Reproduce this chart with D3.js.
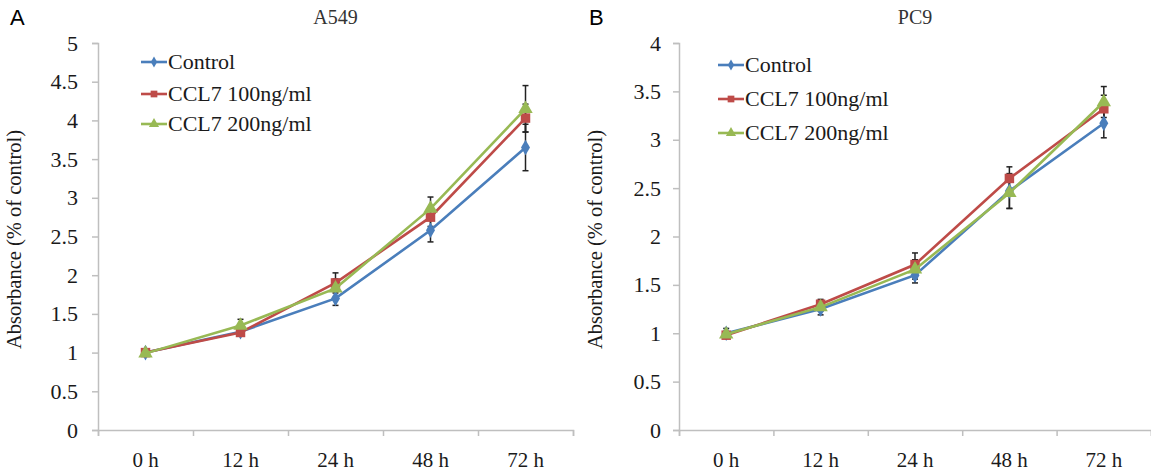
<!DOCTYPE html>
<html>
<head>
<meta charset="utf-8">
<script src="https://cdn.jsdelivr.net/npm/d3@7"></script>
<style>
  body { margin: 0; background: #fff; }
  svg { display: block; }
</style>
</head>
<body>
<svg width="1151" height="474"></svg>
<script>
// ---- data ----
const timepoints = ["0 h", "12 h", "24 h", "48 h", "72 h"];
const seriesNames = ["Control", "CCL7 100ng/ml", "CCL7 200ng/ml"];

// A549
const a549Control = [1.00, 1.27, 1.70, 2.58, 3.65];
const a549Ccl100  = [1.00, 1.26, 1.90, 2.75, 4.03];
const a549Ccl200  = [0.99, 1.35, 1.83, 2.86, 4.15];
const a549ErrControl = [0.03, 0.03, 0.09, 0.15, 0.30];
const a549Err100     = [0.03, 0.04, 0.13, 0.12, 0.18];
const a549Err200     = [0.02, 0.08, 0.12, 0.15, 0.30];

// PC9
const pc9Control = [1.00, 1.25, 1.60, 2.47, 3.17];
const pc9Ccl100  = [0.98, 1.30, 1.71, 2.60, 3.32];
const pc9Ccl200  = [0.99, 1.27, 1.66, 2.45, 3.39];
const pc9ErrControl = [0.05, 0.06, 0.08, 0.18, 0.15];
const pc9Err100     = [0.03, 0.05, 0.12, 0.12, 0.14];
const pc9Err200     = [0.02, 0.04, 0.10, 0.16, 0.16];

const colors = ["#4a7ebb", "#be4b48", "#98b954"];
const symbols = [d3.symbolDiamond, d3.symbolSquare, d3.symbolTriangle];
const symbolSizes = [70, 90, 90];

const serif = '"Liberation Serif", "Times New Roman", serif';
const svg = d3.select("svg");

function drawPanel(p) {
  const g = svg.append("g");

  const x = d3.scaleLinear().domain([0, timepoints.length]).range([p.left, p.right]);
  const xc = i => x(i + 0.5);
  const y = d3.scaleLinear().domain([0, p.ymax]).range([430, 43]);

  // y axis
  const yAxis = d3.axisLeft(y)
    .tickValues(d3.range(0, p.ymax + 0.01, 0.5))
    .tickFormat(d => d3.format("~g")(d))
    .tickSize(6)
    .tickPadding(p.tickPad);
  const ya = g.append("g").attr("transform", `translate(${p.left},0)`).call(yAxis);
  ya.select(".domain").attr("stroke", "#bfbfbf").attr("stroke-width", 1.5);
  ya.selectAll(".tick line").attr("stroke", "#bfbfbf").attr("stroke-width", 1.5);
  ya.selectAll(".tick text").style("font-size", "22px").style("font-family", serif).attr("fill", "#1a1a1a");

  // x axis (ticks between categories)
  const xAxis = d3.axisBottom(x).tickValues(d3.range(0, timepoints.length + 1)).tickFormat("").tickSize(6);
  const xa = g.append("g").attr("transform", "translate(0,430)").call(xAxis);
  xa.select(".domain").attr("stroke", "#bfbfbf").attr("stroke-width", 1.5);
  xa.selectAll(".tick line").attr("stroke", "#bfbfbf").attr("stroke-width", 1.5);

  g.selectAll(".xlab").data(timepoints).join("text")
    .attr("x", (d, i) => xc(i)).attr("y", 467)
    .attr("text-anchor", "middle").style("font-family", serif).style("font-size", "21px")
    .attr("fill", "#1a1a1a").text(d => d);

  // titles
  g.append("text").attr("x", (p.left + p.right) / 2).attr("y", 24)
    .attr("text-anchor", "middle").style("font-family", serif).style("font-size", "20px")
    .attr("fill", "#333").text(p.title);
  g.append("text").attr("x", p.letterX).attr("y", 25)
    .style("font-family", '"Liberation Sans", Arial, sans-serif').style("font-size", "22px")
    .attr("fill", "#000").text(p.letter);
  g.append("text")
    .attr("transform", `translate(${p.left - 77},${y(p.ymax / 2) + 3}) rotate(-90)`)
    .attr("text-anchor", "middle").style("font-family", serif).style("font-size", "20.5px")
    .attr("fill", "#1a1a1a").text("Absorbance (% of control)");

  // error bars
  p.series.forEach((s, k) => {
    const eg = g.append("g");
    s.forEach((v, i) => {
      const e = p.errors[k][i];
      eg.append("line").attr("x1", xc(i)).attr("x2", xc(i))
        .attr("y1", y(v - e)).attr("y2", y(v + e)).attr("stroke", "#222").attr("stroke-width", 1.5);
      [v - e, v + e].forEach(t => eg.append("line")
        .attr("x1", xc(i) - 3).attr("x2", xc(i) + 3)
        .attr("y1", y(t)).attr("y2", y(t)).attr("stroke", "#222").attr("stroke-width", 1.5));
    });
  });

  // lines and markers
  const line = d3.line().x((d, i) => xc(i)).y(d => y(d));
  p.series.forEach((s, k) => {
    g.append("path").datum(s).attr("d", line)
      .attr("fill", "none").attr("stroke", colors[k]).attr("stroke-width", 2.6);
    g.selectAll(".m" + k).data(s).join("path")
      .attr("transform", (d, i) => `translate(${xc(i)},${y(d)})`)
      .attr("d", d3.symbol(symbols[k], symbolSizes[k])).attr("fill", colors[k]);
  });

  // legend
  seriesNames.forEach((name, k) => {
    const ly = p.legendY[k];
    g.append("line").attr("x1", p.legendX).attr("x2", p.legendX + 26)
      .attr("y1", ly).attr("y2", ly).attr("stroke", colors[k]).attr("stroke-width", 2.6);
    g.append("path").attr("transform", `translate(${p.legendX + 13},${ly})`)
      .attr("d", d3.symbol(symbols[k], symbolSizes[k] * 0.5)).attr("fill", colors[k]);
    g.append("text").attr("x", p.legendX + 27).attr("y", ly + 7)
      .style("font-family", serif).style("font-size", "22px")
      .attr("fill", "#1a1a1a").text(name);
  });
}

drawPanel({
  title: "A549", letter: "A", letterX: 10,
  left: 98, right: 573, ymax: 5, tickPad: 14,
  series: [a549Control, a549Ccl100, a549Ccl200],
  errors: [a549ErrControl, a549Err100, a549Err200],
  legendX: 141, legendY: [62, 94, 124]
});

drawPanel({
  title: "PC9", letter: "B", letterX: 589,
  left: 679, right: 1151, ymax: 4, tickPad: 12,
  series: [pc9Control, pc9Ccl100, pc9Ccl200],
  errors: [pc9ErrControl, pc9Err100, pc9Err200],
  legendX: 718, legendY: [65, 99, 133]
});
</script>
</body>
</html>
